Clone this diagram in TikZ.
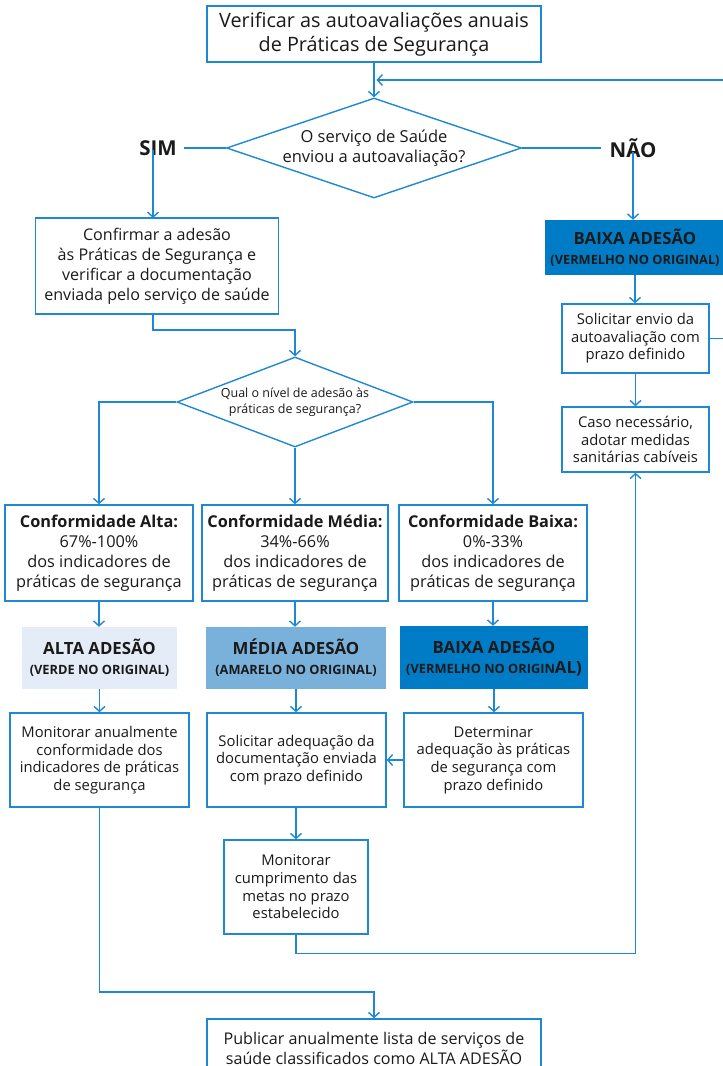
\documentclass[tikz,border=0pt]{standalone}
\usepackage{fontspec}
\setmainfont{Open Sans}
\usetikzlibrary{arrows.meta,shapes.geometric}
\definecolor{lc}{HTML}{1E88D2}
\definecolor{txt}{HTML}{1A1A1A}
\definecolor{altafill}{HTML}{E4ECF7}
\definecolor{mediafill}{HTML}{7AB1DB}
\definecolor{baixafill}{HTML}{007CC6}
\tikzset{
  box/.style={draw=lc, line width=1.4pt, fill=white, align=center, inner sep=0pt,
    text=txt, font=\fontsize{16.1}{20}\selectfont},
  smallbox/.style={box, font=\fontsize{14.8}{17.6}\selectfont},
  tag/.style={align=center, inner sep=0pt, text=txt},
  decision/.style={draw=lc, line width=1.4pt, diamond, inner sep=0pt, shape aspect=2},
  answer/.style={text=txt, inner sep=0pt, font=\fontsize{20.5}{22}\selectfont\bfseries},
  level/.style={tag, font=\fontsize{16.8}{20}\selectfont\bfseries},
  link/.style={draw=lc, line width=1.4pt},
  arr/.style={link, -{Straight Barb[length=5pt,width=11pt,line width=1.4pt]}},
}
\newcommand{\sub}[1]{{\fontsize{12.8}{15}\selectfont #1}}
\begin{document}
\begin{tikzpicture}[x=1pt,y=-1pt]
\useasboundingbox (0,0) rectangle (723,1066);

% first check
\node[box, minimum width=334, minimum height=56, font=\fontsize{19.8}{24}\selectfont]
  (top) at (374,34) {Verificar as autoavaliações anuais\\de Práticas de Segurança};
\node[decision, minimum width=295, minimum height=100] (d1) at (374,148) {};
\node[tag, font=\fontsize{16.5}{19.5}\selectfont] at (d1) {O serviço de Saúde\\enviou a autoavaliação?};
\node[answer] (sim) at (158,148) {SIM};
\node[answer] (nao) at (633,148) {NÃO};

% left branch
\node[box, minimum width=243, minimum height=96] (conf) at (157,266)
  {Confirmar a adesão\\às Práticas de Segurança e\\verificar a documentação\\enviada pelo serviço de saúde};
\node[decision, minimum width=236, minimum height=90] (d2) at (295,402) {};
\node[tag, font=\fontsize{12.5}{16}\selectfont] at (d2) {Qual o nível de adesão às\\práticas de segurança?};

% conformity levels
\node[box, minimum width=188, minimum height=96, font=\fontsize{16.3}{20}\selectfont] (calta) at (99,553)
  {\textbf{Conformidade Alta:}\\67\%-100\%\\dos indicadores de\\práticas de segurança};
\node[box, minimum width=186, minimum height=96, font=\fontsize{16.3}{20}\selectfont] (cmedia) at (295,553)
  {\textbf{Conformidade Média:}\\34\%-66\%\\dos indicadores de\\práticas de segurança};
\node[box, minimum width=188, minimum height=96, font=\fontsize{16.3}{20}\selectfont] (cbaixa) at (493,553)
  {\textbf{Conformidade Baixa:}\\0\%-33\%\\dos indicadores de\\práticas de segurança};

% adherence classes
\node[level, fill=altafill, minimum width=155, minimum height=62] (alta) at (99.5,658)
  {ALTA ADESÃO\\\sub{(VERDE NO ORIGINAL)}};
\node[level, fill=mediafill, minimum width=180, minimum height=62] (media) at (296,658)
  {MÉDIA ADESÃO\\\sub{(AMARELO NO ORIGINAL)}};
\node[level, fill=baixafill, minimum width=188, minimum height=63] (baixa) at (494,657.5)
  {BAIXA ADESÃO\\\sub{(VERMELHO NO ORIGIN}AL)};

% actions
\node[smallbox, minimum width=179, minimum height=94] (mon) at (99.5,760)
  {Monitorar anualmente\\conformidade dos\\indicadores de práticas\\de segurança};
\node[smallbox, minimum width=179, minimum height=94] (sol) at (296.5,760)
  {Solicitar adequação da\\documentação enviada\\com prazo definido};
\node[smallbox, minimum width=179, minimum height=94] (det) at (493.5,760)
  {Determinar\\adequação às práticas\\de segurança com\\prazo definido};
\node[smallbox, minimum width=144, minimum height=94] (cump) at (296,887)
  {Monitorar\\cumprimento das\\metas no prazo\\estabelecido};

% right branch
\node[level, fill=baixafill, minimum width=180, minimum height=55] (baixa0) at (635,247.5)
  {BAIXA ADESÃO\\\sub{(VERMELHO NO ORIGINAL)}};
\node[smallbox, minimum width=147, minimum height=69] (envio) at (635.5,338.5)
  {Solicitar envio da\\autoavaliação com\\prazo definido};
\node[smallbox, minimum width=147, minimum height=65] (caso) at (635.5,439.5)
  {Caso necessário,\\adotar medidas\\sanitárias cabíveis};

% publication
\node[box, minimum width=334, minimum height=58] (pub) at (374,1048)
  {Publicar anualmente lista de serviços de\\saúde classificados como ALTA ADESÃO};

% connectors
\draw[arr] (top.south) -- (d1.north);
\draw[arr] (envio.east) -- (730,338.5) -- (730,80) -- (376.5,80);
\draw[link] (d1.west) -- ([xshift=7pt]sim.east);
\draw[link] (d1.east) -- ([xshift=-8pt]nao.west);
\draw[arr] ([yshift=6pt]sim.south -| 153,0) -- (153,218);
\draw[arr] ([yshift=6pt]nao.south) -- (nao.south |- baixa0.north);
\draw[arr] (153,314) -- (153,330) -| (d2.north);
\draw[arr] (d2.west) -| (calta.north);
\draw[arr] (d2.south) -- (cmedia.north);
\draw[arr] (d2.east) -| (cbaixa.north);
\draw[arr] (calta.south) -- (calta.south |- alta.north);
\draw[arr] (cmedia.south) -- (cmedia.south |- media.north);
\draw[arr] (cbaixa.south) -- (cbaixa.south |- baixa.north);
\draw[arr] (alta.south) -- (alta.south |- mon.north);
\draw[arr] (media.south) -- (media.south |- sol.north);
\draw[arr] (baixa.south) -- (baixa.south |- det.north);
\draw[arr] (det.west) -- (sol.east);
\draw[arr] (sol.south -| cump.north) -- (cump.north);
\draw[arr] (cump.south) -- ++(0,19) -| (caso.south);
\draw[arr] (baixa0.south) -- (baixa0.south |- envio.north);
\draw[arr] (envio.south) -- (caso.north);
\draw[arr] (mon.south) -- (99.5,992) -| (pub.north);
\end{tikzpicture}
\end{document}
